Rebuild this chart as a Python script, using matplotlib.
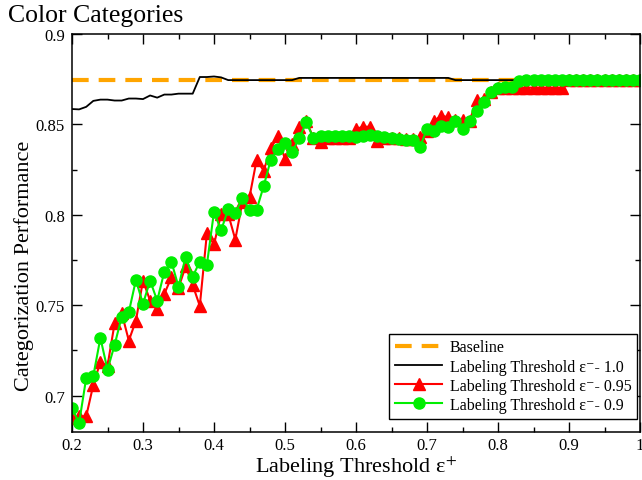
import numpy as np
import matplotlib
matplotlib.use('Agg')
import matplotlib.pyplot as plt
from matplotlib.ticker import MultipleLocator, FuncFormatter

plt.rcParams['font.family'] = ['Liberation Serif', 'DejaVu Serif']
plt.rcParams['mathtext.fontset'] = 'stix'

# labeling threshold eps+ (x axis), step 0.01
x = np.round(np.arange(0.20, 1.0001, 0.01), 2)

baseline = 0.8745

thr_10 = [0.8585, 0.8583, 0.8597, 0.8630, 0.8637, 0.8637, 0.8632, 0.8632, 0.8643, 0.8643,
          0.8640, 0.8660, 0.8648, 0.8665, 0.8665, 0.8670, 0.8670, 0.8670, 0.8762, 0.8762,
          0.8765, 0.8760, 0.8745, 0.8745, 0.8745, 0.8745, 0.8745, 0.8745, 0.8745, 0.8745,
          0.8745, 0.8745, 0.8757, 0.8757, 0.8757, 0.8757, 0.8757, 0.8757, 0.8757, 0.8757,
          0.8757, 0.8757, 0.8757, 0.8757, 0.8757, 0.8757, 0.8757, 0.8757, 0.8757, 0.8757,
          0.8757, 0.8757, 0.8757, 0.8757, 0.8745, 0.8745, 0.8745, 0.8745, 0.8745, 0.8745,
          0.8745, 0.8745, 0.8745, 0.8745, 0.8745, 0.8745, 0.8745, 0.8745, 0.8745, 0.8745,
          0.8745, 0.8745, 0.8745, 0.8745, 0.8745, 0.8745, 0.8745, 0.8745, 0.8745, 0.8745,
          0.8745]

thr_095 = [0.6874, 0.6885, 0.6885, 0.7059, 0.7187, 0.7164, 0.7399, 0.7457, 0.7304, 0.7414,
           0.7636, 0.7525, 0.7479, 0.7562, 0.7654, 0.7595, 0.7715, 0.7611, 0.7496, 0.7898,
           0.7836, 0.8004, 0.8004, 0.7863, 0.8071, 0.8098, 0.8303, 0.8244, 0.8368, 0.8434,
           0.8307, 0.8392, 0.8484, 0.8520, 0.8425, 0.8404, 0.8425, 0.8425, 0.8425, 0.8425,
           0.8475, 0.8487, 0.8487, 0.8410, 0.8425, 0.8425, 0.8425, 0.8419, 0.8419, 0.8429,
           0.8465, 0.8520, 0.8548, 0.8539, 0.8524, 0.8526, 0.8520, 0.8634, 0.8640, 0.8680,
           0.8703, 0.8703, 0.8703, 0.8703, 0.8703, 0.8703, 0.8703, 0.8703, 0.8703, 0.8703,
           0.8746, 0.8746, 0.8746, 0.8746, 0.8746, 0.8746, 0.8746, 0.8746, 0.8746, 0.8746,
           0.8746]

thr_09 = [0.6930, 0.6848, 0.7097, 0.7108, 0.7319, 0.7143, 0.7280, 0.7436, 0.7461, 0.7639,
          0.7507, 0.7636, 0.7525, 0.7685, 0.7741, 0.7602, 0.7768, 0.7658, 0.7741, 0.7724,
          0.8017, 0.7914, 0.8030, 0.8009, 0.8092, 0.8028, 0.8028, 0.8159, 0.8305, 0.8364,
          0.8395, 0.8347, 0.8423, 0.8512, 0.8425, 0.8434, 0.8436, 0.8434, 0.8434, 0.8434,
          0.8429, 0.8434, 0.8441, 0.8437, 0.8429, 0.8423, 0.8419, 0.8415, 0.8414, 0.8373,
          0.8475, 0.8462, 0.8490, 0.8484, 0.8520, 0.8475, 0.8520, 0.8576, 0.8622, 0.8678,
          0.8700, 0.8705, 0.8705, 0.8738, 0.8746, 0.8746, 0.8746, 0.8746, 0.8746, 0.8746,
          0.8746, 0.8746, 0.8746, 0.8746, 0.8746, 0.8746, 0.8746, 0.8746, 0.8746, 0.8746,
          0.8746]

fig = plt.figure(figsize=(6.42, 4.81), dpi=100)
ax = fig.add_axes([72 / 642, 1 - 432.7 / 481, 568 / 642, 397.7 / 481])

ax.plot([0.2, 1.0], [baseline, baseline], color='#ffa500', lw=3, dashes=(4, 2.4),
        label='Baseline')
ax.plot(x, thr_10, color='black', lw=1.3, label='Labeling Threshold ε⁻- 1.0')
ax.plot(x, thr_095, color='red', lw=1.5, marker='^', ms=8, mec='red',
        label='Labeling Threshold ε⁻- 0.95')
ax.plot(x, thr_09, color='#00ee00', lw=1.5, marker='o', ms=8, mec='#00ee00',
        label='Labeling Threshold ε⁻- 0.9')

ax.set_xlim(0.2, 1.0)
ax.set_ylim(0.68, 0.9)
ax.xaxis.set_major_locator(MultipleLocator(0.1))
ax.xaxis.set_minor_locator(MultipleLocator(0.05))
ax.yaxis.set_major_locator(MultipleLocator(0.05))
ax.yaxis.set_minor_locator(MultipleLocator(0.025))
fmt = FuncFormatter(lambda v, p: '%g' % round(v, 3))
ax.xaxis.set_major_formatter(fmt)
ax.yaxis.set_major_formatter(fmt)
ax.tick_params(which='both', direction='in', top=True, right=True, labelsize=12, width=1)
ax.tick_params(axis='y', which='major', length=7, pad=5)
ax.tick_params(axis='x', which='major', length=7, pad=4)
ax.tick_params(which='minor', length=3.5)
for s in ax.spines.values():
    s.set_linewidth(1.1)

fig.text(8 / 642, 1 - 22 / 481, 'Color Categories', fontsize=18.5, va='baseline')
fig.text(24 / 642, 1 - 266 / 481, 'Categorization Performance', fontsize=16,
         rotation=90, ha='center', va='center')
fig.text(356 / 642, 1 - 473 / 481, 'Labeling Threshold ε$^{+}$', fontsize=16,
         ha='center', va='baseline')

leg = ax.legend(loc='lower right', bbox_to_anchor=(637 / 642, 1 - 419.5 / 481),
                bbox_transform=fig.transFigure, borderaxespad=0, fontsize=11.5,
                fancybox=False, framealpha=1, edgecolor='black', handlelength=3.0,
                handletextpad=0.45, labelspacing=0.2, borderpad=0.35)
leg.get_frame().set_linewidth(1)

fig.savefig('out.png', dpi=100)
